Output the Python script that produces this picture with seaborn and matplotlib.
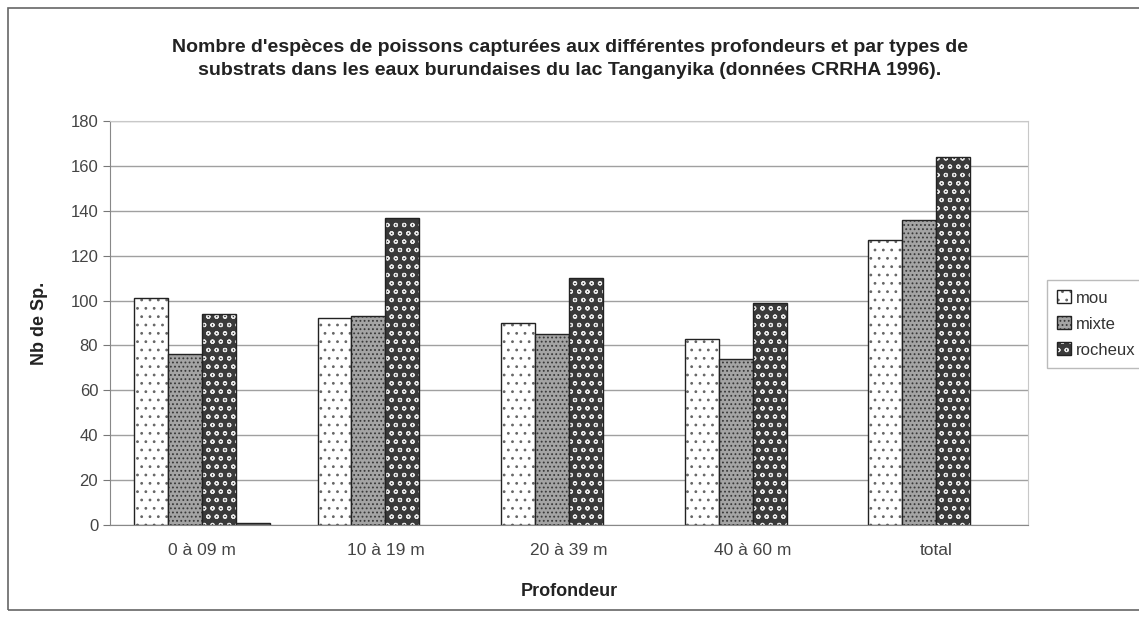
import matplotlib.pyplot as plt
import matplotlib.colors as mcolors
import matplotlib.patches as mpatches
import pandas as pd
import seaborn as sns

sns.set_style("white")
plt.rcParams['font.family'] = ['Liberation Sans', 'DejaVu Sans']
plt.rcParams['hatch.linewidth'] = 0.8

profondeurs = ['0 à 09 m', '10 à 19 m', '20 à 39 m', '40 à 60 m', 'total']
mou = [101, 92, 90, 83, 127]
mixte = [76, 93, 85, 74, 136]
rocheux = [94, 137, 110, 99, 164]
autre = [1, None, None, None, None]
substrats = ['mou', 'mixte', 'rocheux', 'autre']
titre = ("Nombre d'espèces de poissons capturées aux différentes profondeurs et par types de\n"
         "substrats dans les eaux burundaises du lac Tanganyika (données CRRHA 1996).")

df = pd.DataFrame({'profondeur': profondeurs, 'mou': mou, 'mixte': mixte,
                   'rocheux': rocheux, 'autre': autre})
df = df.melt(id_vars='profondeur', var_name='substrat', value_name='nb')

# face, hatch, hatch colour for each substrate
styles = {
    'mou': ('white', '..', '#666666'),
    'mixte': ('#a4a4a4', '....', '#383838'),
    'rocheux': ('#3a3a3a', 'oo', '#e8e8e8'),
    'autre': ('#777777', '', 'black'),
}


def style_patch(p, sub):
    face, hatch, hc = styles[sub]
    p.set_facecolor(face)
    p.set_edgecolor('#222222')
    p.set_linewidth(1.0)
    p.set_hatch(hatch)
    p._hatch_color = mcolors.to_rgba(hc)


fig = plt.figure(figsize=(11.39, 6.19), dpi=100)
ax = fig.add_axes([0.0966, 0.152, 0.806, 0.6525])

sns.barplot(data=df, x='profondeur', y='nb', hue='substrat', hue_order=substrats,
            order=profondeurs, width=0.74, dodge=True, errorbar=None,
            legend=False, ax=ax)

for cont, sub in zip(ax.containers, substrats):
    for p in cont:
        style_patch(p, sub)

ax.set_ylim(0, 180)
ax.set_yticks(range(0, 181, 20))
ax.set_xlim(-0.5, 4.5)
ax.yaxis.grid(True, color='#a0a0a0', lw=1)
ax.set_axisbelow(True)
ax.set_xticks([i - 0.5 for i in range(6)], minor=True)
ax.tick_params(axis='x', which='major', length=0, pad=13, labelsize=12.5, labelcolor='#444444')
ax.tick_params(axis='x', which='minor', length=4, color='#888888', direction='out')
ax.tick_params(axis='y', length=5, color='#777777', direction='out', labelsize=12,
               labelcolor='#444444', left=True)
for side in ['top', 'right']:
    ax.spines[side].set_color('#c8c8c8')
for side in ['left', 'bottom']:
    ax.spines[side].set_color('#888888')

ax.set_xlabel('Profondeur', fontsize=13, fontweight='bold', color='#222222', labelpad=18)
ax.set_ylabel('Nb de Sp.', fontsize=13, fontweight='bold', color='#222222', labelpad=16)

fig.suptitle(titre, y=1 - 39 / 619, va='top', fontsize=14, fontweight='bold',
             color='#222222', linespacing=1.45)

handles = []
for sub in substrats[:3]:
    h = mpatches.Patch()
    style_patch(h, sub)
    handles.append(h)
fig.legend(handles, substrats[:3], loc='upper left', bbox_to_anchor=(1039 / 1139, 1 - 272 / 619),
           frameon=True, fancybox=False, edgecolor='#aaaaaa', fontsize=12,
           handlelength=0.8, handleheight=0.8, handletextpad=0.3, labelspacing=0.65,
           borderpad=0.6, labelcolor='#333333')

fig.patches.append(mpatches.Rectangle((8 / 1139, 1 - 610 / 619), 1.2, 602 / 619,
                                      transform=fig.transFigure, fill=False,
                                      edgecolor='#666666', lw=1.2))

fig.savefig('out.png', dpi=100)
